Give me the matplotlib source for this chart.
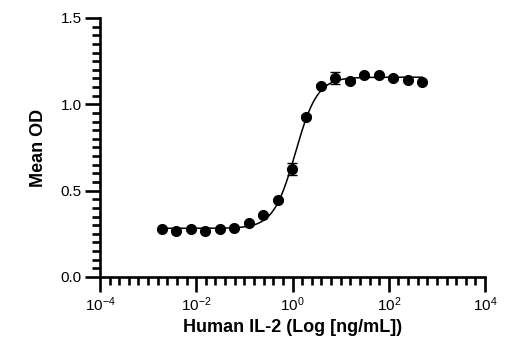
import numpy as np
import matplotlib
matplotlib.use("Agg")
import matplotlib.pyplot as plt
from matplotlib.ticker import FixedLocator, NullFormatter

# Data: two-fold dilution series of human IL-2 (ng/mL) and mean OD
conc = [0.0019, 0.0038, 0.0076, 0.0153, 0.0305, 0.061, 0.122, 0.244, 0.488,
        0.977, 1.95, 3.9, 7.8, 15.6, 31.25, 62.5, 125, 250, 500]
mean_od = [0.276, 0.266, 0.276, 0.266, 0.276, 0.285, 0.311, 0.357, 0.446,
           0.625, 0.928, 1.108, 1.154, 1.135, 1.168, 1.168, 1.150, 1.141, 1.129]
od_err = [0.005, 0.005, 0.005, 0.005, 0.005, 0.005, 0.005, 0.005, 0.008,
          0.036, 0.010, 0.010, 0.036, 0.010, 0.008, 0.008, 0.008, 0.008, 0.008]

x_major = [1e-4, 1e-2, 1e0, 1e2, 1e4]
x_major_labels = ["$10^{-4}$", "$10^{-2}$", "$10^{0}$", "$10^{2}$", "$10^{4}$"]
y_major = [0.0, 0.5, 1.0, 1.5]
y_major_labels = ["0.0", "0.5", "1.0", "1.5"]

FONT = ["Liberation Sans", "DejaVu Sans"]
plt.rcParams["font.family"] = FONT
plt.rcParams["mathtext.fontset"] = "custom"
plt.rcParams["mathtext.rm"] = "Liberation Sans"
plt.rcParams["mathtext.default"] = "regular"


def fit_4pl(x, y):
    """Simple 4PL fit: grid over logEC50 and hill, linear solve for bottom/top."""
    lx = np.log10(x)
    y = np.asarray(y)
    best = None
    for logec in np.linspace(-1, 1, 201):
        for hill in np.linspace(0.5, 3.0, 126):
            s = 1.0 / (1.0 + 10 ** ((logec - lx) * hill))
            A = np.column_stack([1 - s, s])
            coef, *_ = np.linalg.lstsq(A, y, rcond=None)
            err = np.sum((A @ coef - y) ** 2)
            if best is None or err < best[0]:
                best = (err, logec, hill, coef)
    _, logec, hill, (bottom, top) = best

    def f(xx):
        s = 1.0 / (1.0 + 10 ** ((logec - np.log10(xx)) * hill))
        return bottom + (top - bottom) * s
    return f


curve = fit_4pl(conc, mean_od)
x_fit = np.logspace(np.log10(min(conc)), np.log10(max(conc)), 300)

fig = plt.figure(figsize=(5.2, 3.5), dpi=100)
ax = fig.add_axes([0.1923, 0.2086, 0.7404, 0.74])

ax.plot(x_fit, curve(x_fit), color="black", linewidth=1.1, zorder=2)
ax.errorbar(conc, mean_od, yerr=od_err, fmt="o", color="black",
            markersize=7, capsize=3.5, elinewidth=1.0, capthick=1.0, zorder=3)

ax.set_xscale("log")
ax.set_xlim(1e-4, 1e4)
ax.set_ylim(0, 1.5)

ax.xaxis.set_major_locator(FixedLocator(x_major))
ax.set_xticklabels(x_major_labels)
ax.xaxis.set_minor_locator(FixedLocator(10 ** np.arange(-4, 4.01, 0.2)))
ax.xaxis.set_minor_formatter(NullFormatter())

ax.yaxis.set_major_locator(FixedLocator(y_major))
ax.set_yticklabels(y_major_labels)
ax.yaxis.set_minor_locator(FixedLocator(np.arange(0, 1.501, 0.05)))

for side in ["top", "right"]:
    ax.spines[side].set_visible(False)
for side in ["left", "bottom"]:
    ax.spines[side].set_linewidth(1.9)

ax.tick_params(which="major", length=11, width=1.9, direction="out",
               labelsize=11, pad=2)
ax.tick_params(which="minor", length=5.5, width=1.9, direction="out")

ax.set_xlabel("Human IL-2 (Log [ng/mL])", fontsize=13, fontweight="bold",
              labelpad=4)
ax.set_ylabel("Mean OD", fontsize=13, fontweight="bold", labelpad=10)

fig.savefig("out.png", dpi=100)
